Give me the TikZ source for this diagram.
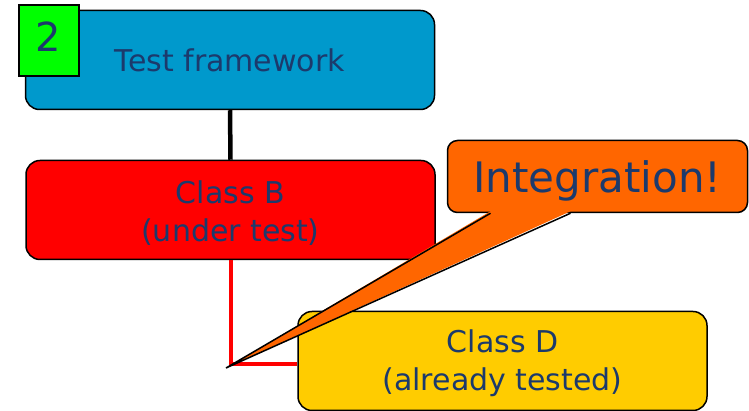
\documentclass[tikz,border=0pt]{standalone}
\usepackage{fontspec}
\setmainfont{DejaVu Sans}
\usetikzlibrary{positioning,calc}
\definecolor{frameblue}{RGB}{0,153,204}
\definecolor{doneyellow}{RGB}{255,204,0}
\definecolor{noteorange}{RGB}{255,102,0}
\definecolor{stepgreen}{RGB}{0,255,0}
\definecolor{inkblue}{RGB}{28,58,108}
% move text inside a node without changing the node size
\newcommand{\nudge}[2]{\raisebox{#1}[\height][\depth]{#2}}

\begin{document}
\begin{tikzpicture}[x=1pt,y=1pt]

\tikzstyle{box}=[rectangle, draw, line width=1.5pt, rounded corners=14pt, minimum width=409pt, minimum height=99pt, align=center, text=inkblue, font=\fontsize{30}{38}\selectfont]
\tikzstyle{numbox}=[rectangle, draw, line width=2pt, fill=stepgreen, minimum width=60pt, minimum height=71pt, text=inkblue, font=\fontsize{40}{40}\selectfont]
\tikzstyle{note}=[rectangle, draw, line width=1.5pt, rounded corners=10pt, fill=noteorange, minimum width=300pt, minimum height=72pt, text=inkblue, font=\fontsize{42}{42}\selectfont]
\tikzstyle{link}=[line width=4.5pt]

\useasboundingbox (0,0) rectangle (749,411);

\node (frame) [box, fill=frameblue] at (230,351) {Test framework};
\node (step) [numbox] at (48.5,370) {\nudge{4pt}{2}};
\node (classB) [box, fill=red] at (230.5,201) {\nudge{-4.5pt}{\begin{tabular}{@{}c@{}}Class B\\(under test)\end{tabular}}};
\draw[link] (frame.south) -- (classB.north);
\node (classD) [box, fill=doneyellow] at (502.5,50) {\nudge{-2.5pt}{\begin{tabular}{@{}c@{}}Class D\\(already tested)\end{tabular}}};
\draw[link, red, line width=4pt, shorten >=0.75pt] (classB.south) |- ($(classD.west)+(0,-3)$);

% callout
\node (integ) [note] at (597.5,234.5) {\nudge{-4pt}{Integration!}};
\coordinate (tip) at (226,43);
\fill[noteorange] ($(integ.south)+(-107,2)$) -- (tip) -- ($(integ.south)+(-27,2)$) -- cycle;
\draw[line width=1.5pt] ($(integ.south)+(-107,0)$) -- (tip) -- ($(integ.south)+(-27,0)$);
\end{tikzpicture}
\end{document}
